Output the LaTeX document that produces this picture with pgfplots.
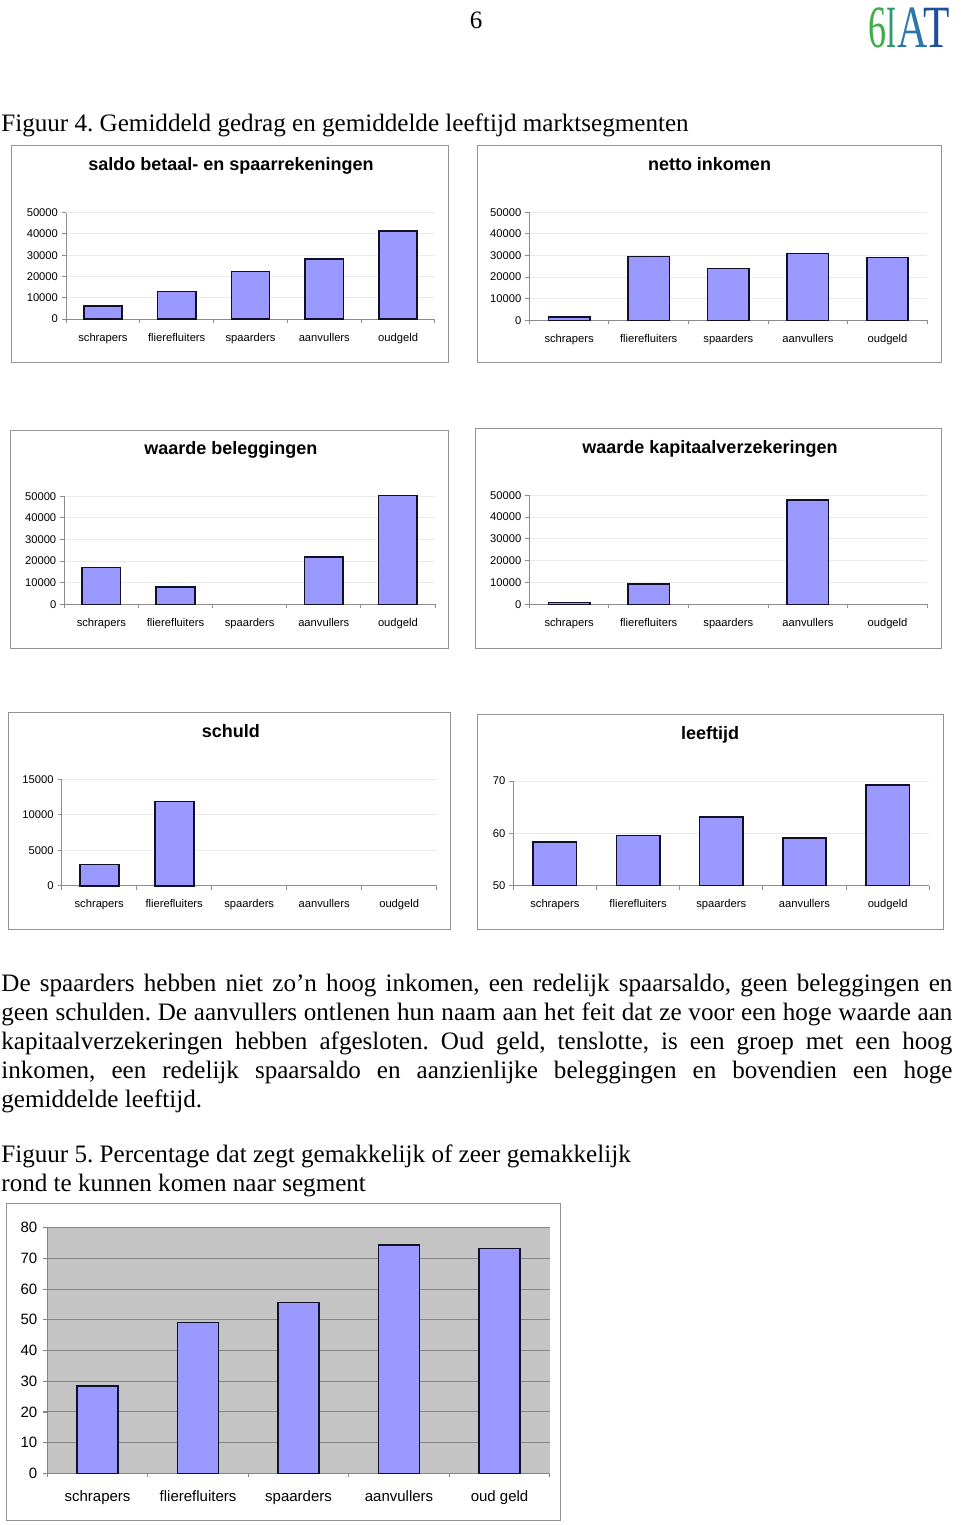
\documentclass[border=0pt]{standalone}
\usepackage{fontspec}
\setmainfont{Liberation Serif}
\newfontfamily\arial{Liberation Sans}
\usepackage{graphicx}
\usepackage{pgfplots}
\pgfplotsset{compat=1.18}
\frenchspacing
\definecolor{barblue}{HTML}{9999FF}
\definecolor{barline}{HTML}{101028}
\definecolor{axgray}{HTML}{8C8C8C}
\definecolor{gridlight}{HTML}{EAEAEA}
\definecolor{framegray}{HTML}{939393}
\definecolor{plotgray}{HTML}{C4C4C4}
\definecolor{griddark}{HTML}{858585}
\definecolor{logoA}{HTML}{3FAE49}
\definecolor{logoB}{HTML}{2E9A6E}
\definecolor{logoC}{HTML}{2A77A8}
\definecolor{logoD}{HTML}{1E4F9C}
\tikzset{titlefont/.style={font=\arial\bfseries\fontsize{9}{10}\selectfont}}
\pgfplotsset{
  mybar/.style={fill=barblue, draw=barline, line width=0.8pt},
  smallbar/.style={
    scale only axis, anchor=south west,
    xmin=-0.5, xmax=4.5,
    axis lines*=left, axis line style={draw=axgray, line width=0.5pt},
    xtick={-0.5,0.5,1.5,2.5,3.5,4.5}, xticklabels={},
    extra x ticks={0,1,2,3,4},
    extra x tick labels={schrapers,flierefluiters,spaarders,aanvullers,oudgeld},
    extra x tick style={major tick length=0pt},
    xticklabel style={yshift=-3.5pt},
    yticklabel style={xshift=1.5pt},
    tick align=outside, major tick length=2pt,
    tick style={draw=axgray, line width=0.5pt},
    ymajorgrids, grid style={draw=gridlight, line width=0.5pt},
    tick label style={font=\arial\fontsize{5.6}{6}\selectfont},
    /pgf/number format/assume math mode=true,
    /pgf/number format/1000 sep={},
    scaled y ticks=false,
    ybar, bar width=0.52,
    clip=false,
  },
}
\begin{document}
\begin{tikzpicture}
\fill[white] (0,0) rectangle (480pt,-762.5pt);
% header
\node[anchor=base, inner sep=0, font=\fontsize{12.5}{14}\selectfont] at (238pt,-14.15pt) {6};
\node[anchor=base west, inner sep=0, text=logoA, font=\fontsize{30}{30}\selectfont] at (434pt,-24pt) {\scalebox{0.6}[1]{6}};
\node[anchor=base west, inner sep=0, text=logoB, font=\fontsize{30}{30}\selectfont] at (443pt,-24pt) {\scalebox{0.5}[1]{I}};
\node[anchor=base west, inner sep=0, text=logoC, font=\fontsize{30}{30}\selectfont] at (448.5pt,-24pt) {\scalebox{0.7}[1]{A}};
\node[anchor=base west, inner sep=0, text=logoD, font=\fontsize{30}{30}\selectfont] at (461.5pt,-24pt) {\scalebox{0.72}[1]{T}};
\node[anchor=base west, inner sep=0, font=\fontsize{12.55}{14}\selectfont] at (0.5pt,-66pt) {Figuur 4. Gemiddeld gedrag en gemiddelde leeftijd marktsegmenten};
% frames
\draw[framegray, line width=0.5pt] (5.5pt,-72.5pt) rectangle (224pt,-181pt);
\draw[framegray, line width=0.5pt] (238.5pt,-72.5pt) rectangle (470.5pt,-181.35pt);
\draw[framegray, line width=0.5pt] (5pt,-215pt) rectangle (224pt,-324pt);
\draw[framegray, line width=0.5pt] (237.5pt,-214pt) rectangle (470.5pt,-324pt);
\draw[framegray, line width=0.5pt] (4pt,-356pt) rectangle (225pt,-464.5pt);
\draw[framegray, line width=0.5pt] (238.5pt,-357pt) rectangle (471.5pt,-464.5pt);
\draw[framegray, line width=0.5pt] (3pt,-601.5pt) rectangle (280pt,-760pt);
% titles
\node[anchor=base, inner sep=0, titlefont] at (115.5pt,-85.35pt) {saldo betaal- en spaarrekeningen};
\node[anchor=base, inner sep=0, titlefont] at (354.75pt,-85.35pt) {netto inkomen};
\node[anchor=base, inner sep=0, titlefont] at (115.4pt,-227.15pt) {waarde beleggingen};
\node[anchor=base, inner sep=0, titlefont] at (355pt,-226.65pt) {waarde kapitaalverzekeringen};
\node[anchor=base, inner sep=0, titlefont] at (115.4pt,-368.65pt) {schuld};
\node[anchor=base, inner sep=0, titlefont] at (355pt,-369.5pt) {leeftijd};
% chart 1
\begin{axis}[smallbar, at={(33pt,-159.5pt)}, width=184.5pt, height=53.15pt,
  ymin=0, ymax=50000, ytick={0,10000,...,50000}]
\addplot[mybar] coordinates {(0,6000) (1,12900) (2,22300) (3,28200) (4,41500)};
\end{axis}
% chart 2
\begin{axis}[smallbar, at={(264.65pt,-160.15pt)}, width=199pt, height=54pt,
  ymin=0, ymax=50000, ytick={0,10000,...,50000}]
\addplot[mybar] coordinates {(0,1500) (1,29500) (2,24000) (3,31000) (4,29000)};
\end{axis}
% chart 3
\begin{axis}[smallbar, at={(32.15pt,-302.15pt)}, width=185.35pt, height=54pt,
  ymin=0, ymax=50000, ytick={0,10000,...,50000}]
\addplot[mybar] coordinates {(0,17000) (1,7900) (3,21900) (4,50300)};
\end{axis}
% chart 4
\begin{axis}[smallbar, at={(264.65pt,-302.15pt)}, width=199pt, height=54.5pt,
  ymin=0, ymax=50000, ytick={0,10000,...,50000}]
\addplot[mybar] coordinates {(0,800) (1,9200) (3,47800)};
\end{axis}
% chart 5
\begin{axis}[smallbar, at={(30.85pt,-442.85pt)}, width=187.5pt, height=53.2pt,
  ymin=0, ymax=15000, ytick={0,5000,10000,15000}]
\addplot[mybar] coordinates {(0,3000) (1,11850)};
\end{axis}
% chart 6
\begin{axis}[smallbar, at={(256.65pt,-442.85pt)}, width=208pt, height=52.35pt,
  ymin=50, ymax=70, ytick={50,60,70}, clip=true]
\addplot[mybar] coordinates {(0,58.4) (1,59.6) (2,63.1) (3,59.1) (4,69.2)};
\end{axis}
% paragraph
\begin{scope}[every node/.style={anchor=base west, inner sep=0, font=\fontsize{12.55}{14.5}\selectfont}]
\node at (0.5pt,-495.5pt) {\makebox[475.5pt][s]{De spaarders hebben niet zo’n hoog inkomen, een redelijk spaarsaldo, geen beleggingen en}};
\node at (0.5pt,-510pt) {\makebox[475.5pt][s]{geen schulden. De aanvullers ontlenen hun naam aan het feit dat ze voor een hoge waarde aan}};
\node at (0.5pt,-524.5pt) {\makebox[475.5pt][s]{kapitaalverzekeringen hebben afgesloten. Oud geld, tenslotte, is een groep met een hoog}};
\node at (0.5pt,-539pt) {\makebox[475.5pt][s]{inkomen, een redelijk spaarsaldo en aanzienlijke beleggingen en bovendien een hoge}};
\node at (0.5pt,-553.5pt) {gemiddelde leeftijd.};
\node at (0.5pt,-581pt) {Figuur 5. Percentage dat zegt gemakkelijk of zeer gemakkelijk};
\node at (0.5pt,-595.5pt) {rond te kunnen komen naar segment};
\end{scope}
% chart 7
\begin{axis}[scale only axis, anchor=south west, at={(23.65pt,-736.65pt)}, width=251.25pt, height=122.8pt,
  xmin=-0.5, xmax=4.5, ymin=0, ymax=80, ytick={0,10,...,80},
  axis background/.style={fill=plotgray},
  axis lines*=left, axis line style={draw=griddark, line width=0.6pt},
  xtick={-0.5,0.5,1.5,2.5,3.5,4.5}, xticklabels={},
  extra x ticks={0,1,2,3,4},
  extra x tick labels={schrapers,flierefluiters,spaarders,aanvullers,oud geld},
  extra x tick style={major tick length=0pt},
  xticklabel style={yshift=-5pt},
  yticklabel style={xshift=0.5pt},
  tick align=outside, major tick length=2pt,
  tick style={draw=griddark, line width=0.6pt},
  ymajorgrids, grid style={draw=griddark, line width=0.5pt},
  tick label style={font=\arial\fontsize{7.5}{8}\selectfont},
  /pgf/number format/assume math mode=true,
  ybar, bar width=0.405, clip=false]
\addplot[mybar, line width=0.7pt] coordinates {(0,28.5) (1,49.2) (2,55.6) (3,74.4) (4,73.3)};
\end{axis}
\pgfresetboundingbox
\path[use as bounding box] (0,0) rectangle (480pt,-762.5pt);
\end{tikzpicture}
\end{document}
